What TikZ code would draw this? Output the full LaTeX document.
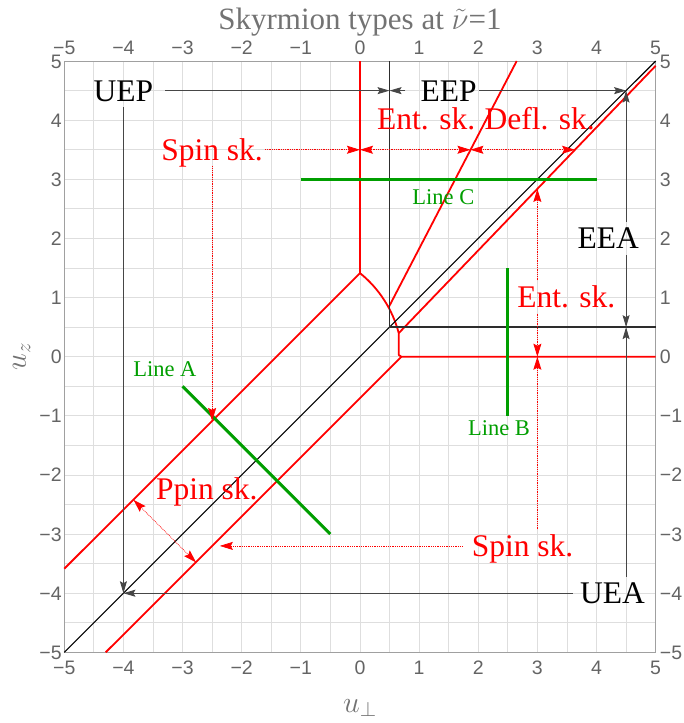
\RequirePackage{fix-cm}
\documentclass[tikz,border=0pt]{standalone}
\usepackage{fontspec}
\setmainfont{Liberation Serif}
\newfontfamily\tickfont{Liberation Sans}
\usetikzlibrary{arrows.meta,calc}
\definecolor{mygreen}{RGB}{0,158,0}
\definecolor{tickgray}{RGB}{100,100,100}
\definecolor{titlegray}{RGB}{115,115,115}
\definecolor{gridgray}{RGB}{222,222,222}
\definecolor{framegray}{RGB}{160,160,160}
\definecolor{blkline}{RGB}{45,45,45}
\definecolor{arrgray}{RGB}{70,70,70}
\begin{document}
\begin{tikzpicture}[x=59.14pt,y=59.13pt,
  lbl/.style={font=\fontsize{31.5}{36}\selectfont, text height=21pt, text depth=0pt, inner xsep=2pt, inner ysep=6pt},
  redlbl/.style={lbl, text=red},
  greenlbl/.style={font=\fontsize{22.5}{26}\selectfont, text=mygreen, text height=15pt, text depth=0pt, inner sep=0pt},
  ticklbl/.style={font=\tickfont\fontsize{19.5}{22}\selectfont, text=tickgray, inner sep=0pt, text height=14pt, text depth=0pt},
  gridline/.style={draw=gridgray, line width=0.8pt},
  redcurve/.style={draw=red, line width=1.8pt, line join=round},
  greenline/.style={draw=mygreen, line width=3pt},
  blkarr/.style={draw=arrgray, line width=0.9pt, -{Stealth[length=12pt,width=7pt,inset=2pt]}},
  redline/.style={draw=red, line width=0.8pt, densely dotted},
  rarr/.style={redline, -{Stealth[length=13pt,width=8pt,inset=2pt]}},
  rdbl/.style={redline, {Stealth[length=13pt,width=8pt,inset=2pt]}-{Stealth[length=13pt,width=8pt,inset=2pt]}}
]
\useasboundingbox (-6.087,-6.195) rectangle (5.478,6.033);
% grid
\foreach \g in {-4.5,-4,...,4.5} {
  \draw[gridline] (\g,-5) -- (\g,5);
  \draw[gridline] (-5,\g) -- (5,\g);
}
\draw[framegray, line width=1pt] (-5,-5) rectangle (5,5);
% tick labels
\foreach \v/\t [count=\i] in {-5/{−5},-4/{−4},-3/{−3},-2/{−2},-1/{−1},0/0,1/1,2/2,3/3,4/4,5/5} {
  \node[ticklbl, anchor=east] (yl\i) at (-5.04,\v) {\t};
  \node[ticklbl, anchor=west] (yr\i) at (5.07,\v) {\t};
  \node[ticklbl, anchor=south] (xt\i) at (\v,5.10) {\t};
  \node[ticklbl, anchor=north] (xb\i) at (\v,-5.13) {\t};
}
% title and axis labels
\node[font=\fontsize{31}{36}\selectfont, text=titlegray, inner sep=0pt] (title) at (0,5.66) {Skyrmion types at $\tilde{\nu}$=1};
\node[font=\fontsize{30}{36}\selectfont, text=titlegray, inner sep=0pt] (xlab) at (0,-5.94) {$u_\perp$};
\node[font=\fontsize{30}{36}\selectfont, text=titlegray, inner sep=0pt, rotate=90] (ylab) at (-5.72,0) {$u_z$};
% red boundaries
\draw[redcurve] (0,5) -- (0,1.414) -- (-5,-3.586);
\draw[redcurve] (0,1.414) arc[start angle=51.1, end angle=14.6, radius=1.93]
   -- (0.656,0.03) -- (0.70,0) -- (5,0);
\draw[redcurve] (0.70,0) -- (-4.30,-5);
\draw[redcurve] (0.656,0.399) -- (5,4.92);
\draw[redcurve] (0.484,0.833) -- (2.65,5);
% black lines
\draw[black, line width=1.1pt] (-5,-5) -- (5,5);
\draw[blkline, line width=1.7pt] (0.5,5) -- (0.5,0.5) -- (5,0.5);
% green lines
\draw[greenline] (-1,3) -- (4,3);
\draw[greenline] (2.5,-1) -- (2.5,1.5);
\draw[greenline] (-3,-0.5) -- (-0.5,-3);
% labels
\node[lbl] (UEP) at (-4,4.5) {UEP};
\node[lbl] (EEP) at (1.5,4.5) {EEP};
\node[lbl] (EEA) at (4.2,2.0) {EEA};
\node[lbl] (UEA) at (4.27,-4.0) {UEA};
\node[redlbl] (S1) at (-2.5,3.5) {Spin sk.};
\node[redlbl] (E1) at (1.12,4.02) {Ent. sk.};
\node[redlbl] (D1) at (3.04,4.02) {Defl. sk.};
\node[redlbl] (E2) at (3.49,1.01) {Ent. sk.};
\node[redlbl] (S2) at (2.75,-3.2) {Spin sk.};
\node[redlbl] (P1) at (-2.59,-2.24) {Ppin sk.};
\node[greenlbl] (LA) at (-3.3,-0.2) {Line A};
\node[greenlbl] (LB) at (2.35,-1.21) {Line B};
\node[greenlbl] (LC) at (1.41,2.70) {Line C};
% coordinates
\coordinate (Q1) at (0.5,4.5);
\coordinate (Q2) at (4.5,4.5);
\coordinate (Q3) at (4.5,0.5);
\coordinate (Q4) at (-4,-4);
\coordinate (R0) at (0,3.5);
\coordinate (R1) at (1.868,3.5);
\coordinate (R2) at (3.637,3.5);
\coordinate (T1) at (-2.5,-1.086);
\coordinate (V0) at (3,2.837);
\coordinate (V1) at (3,0);
\coordinate (H1) at (-2.37,-3.2);
\coordinate (PA) at (-3.83,-2.42);
\coordinate (PB) at (-2.77,-3.48);
% black arrows
\draw[blkarr] ([xshift=10pt]UEP.east) -- (Q1);
\draw[blkarr] (UEP.south) -- (Q4);
\draw[blkarr] ([xshift=-13pt]EEP.west) -- (Q1);
\draw[blkarr] (EEP.east) -- (Q2);
\draw[blkarr] (EEA.north -| Q2) -- (Q2);
\draw[blkarr] (EEA.south -| Q3) -- (Q3);
\draw[blkarr] (UEA.north -| Q3) -- (Q3);
\draw[blkarr] ([xshift=-5pt]UEA.west) -- (Q4);
% red dotted arrows
\draw[rarr] (S1.east) -- (R0);
\draw[rarr] (S1.south) -- (T1);
\draw[rdbl] (R0) -- (R1);
\draw[rdbl] (R1) -- (R2);
\draw[rarr] (E2.north -| V0) -- (V0);
\draw[rarr] (E2.south -| V1) -- (V1);
\draw[rarr] (S2.north -| V1) -- (V1);
\draw[rarr] ([xshift=-7pt]S2.west) -- (H1);
\draw[rdbl] (PA) -- (PB);
\end{tikzpicture}
\end{document}
